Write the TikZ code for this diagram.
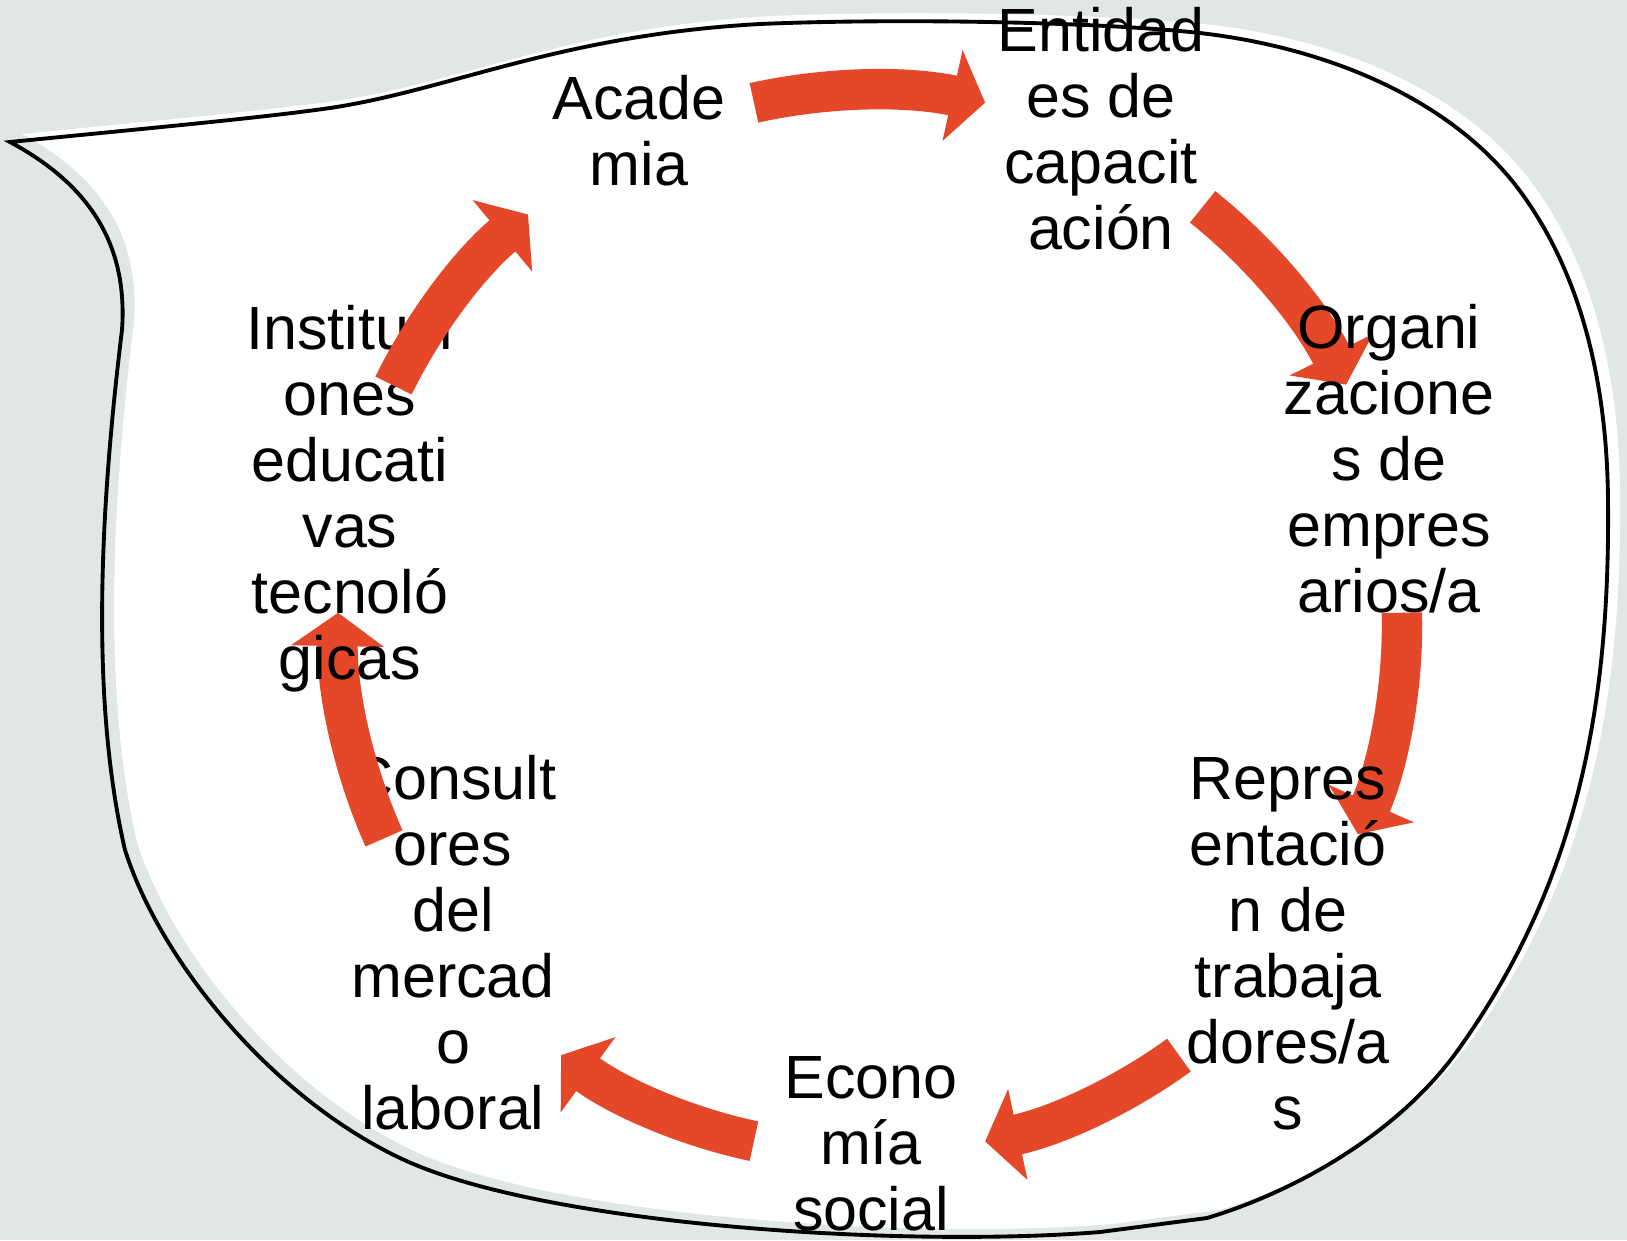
\documentclass[tikz,border=0pt]{standalone}
\usepackage{fontspec}
\setmainfont{Liberation Sans}
\usetikzlibrary{arrows.meta}

\definecolor{bggrey}{RGB}{225,231,231}
\definecolor{cycred}{RGB}{229,72,40}

% outline of the speech blob
\newcommand{\blobpath}{(0.10,-1.42) .. controls (1.50,-1.28) and (2.60,-1.18) .. (3.30,-1.08)
  .. controls (4.50,-0.90) and (5.60,-0.35) .. (7.60,-0.24)
  .. controls (9.00,-0.18) and (11.00,-0.22) .. (12.00,-0.33)
  .. controls (13.30,-0.48) and (14.50,-1.00) .. (15.17,-1.87)
  .. controls (15.80,-2.70) and (16.07,-3.80) .. (16.08,-5.00)
  .. controls (16.10,-7.00) and (15.80,-8.80) .. (14.58,-10.50)
  .. controls (14.00,-11.31) and (13.00,-11.90) .. (12.07,-12.18)
  -- (11.00,-12.32)
  .. controls (9.00,-12.48) and (5.40,-12.25) .. (4.00,-11.58)
  .. controls (2.70,-10.96) and (1.60,-9.60) .. (1.25,-8.50)
  .. controls (0.95,-7.20) and (0.95,-5.50) .. (1.22,-3.30)
  .. controls (1.28,-2.45) and (0.90,-1.85) .. (0.10,-1.42) -- cycle}

\begin{document}
\begin{tikzpicture}[
    lbl/.style={anchor=base, align=center, inner sep=0pt, font=\fontsize{17.36pt}{18.75pt}\selectfont},
    cyc/.style={cycred, line width=11.5pt, -{Triangle[length=9.5pt,width=26pt]}}]
  \useasboundingbox (0,0) rectangle (16.27,-12.40);
  \fill[bggrey] (0,0) rectangle (16.27,-12.40);

  % blob: white fill shifted, black outline
  \fill[white, shift={(0.12,0.08)}] \blobpath;
  \draw[line width=1.1pt] \blobpath;

  % arrow ends on the circle
  \coordinate (o) at (8.70,-6.22);
  \path (o) +(102.6:5.32) coordinate (a1s) +(77.5:5.32) coordinate (a1e);
  \path (o) +(51.3:5.32) coordinate (a2s) +(26.5:5.32) coordinate (a2e);
  \path (o) +(1.0:5.32) coordinate (a3s) +(-23.5:5.32) coordinate (a3e);
  \path (o) +(-54.5:5.32) coordinate (a4s) +(-77.5:5.32) coordinate (a4e);
  \path (o) +(-102.6:5.32) coordinate (a5s) +(-125.5:5.32) coordinate (a5e);
  \path (o) +(-156.0:5.32) coordinate (a6s) +(-181.0:5.32) coordinate (a6e);
  \path (o) +(153.6:5.32) coordinate (a7s) +(130.0:5.32) coordinate (a7e);

  % cycle: each text, then its arrow
  \node[lbl] (acad) at (6.39,-1.85) {Acade\\mia};
  \draw[cyc] (a1s) to[bend left=12.5, looseness=0.86] (a1e);
  \node[lbl] (ent) at (11.01,-2.49) {Entidad\\es de\\capacit\\ación};
  \draw[cyc] (a2s) to[bend left=12.5, looseness=0.86] (a2e);
  \node[lbl] (org) at (13.89,-6.12) {Organi\\zacione\\s de\\empres\\arios/a};
  \draw[cyc] (a3s) to[bend left=12.5, looseness=0.86] (a3e);
  \node[lbl] (rep) at (12.88,-11.29) {Repres\\entació\\n de\\trabaja\\dores/a\\s};
  \draw[cyc] (a4s) to[bend left=12, looseness=0.86] (a4e);
  \node[lbl] (eco) at (8.71,-12.30) {Econo\\mía\\social};
  \draw[cyc] (a5s) to[bend left=12, looseness=0.86] (a5e);
  \node[lbl] (cons) at (4.53,-11.29) {Consult\\ores\\del\\mercad\\o\\laboral};
  \draw[cyc] (a6s) to[bend left=12.5, looseness=0.86] (a6e);
  \node[lbl] (inst) at (3.50,-6.79) {Instituci\\ones\\educati\\vas\\tecnoló\\gicas};
  \draw[cyc] (a7s) to[bend left=12, looseness=0.86] (a7e);
\end{tikzpicture}
\end{document}
